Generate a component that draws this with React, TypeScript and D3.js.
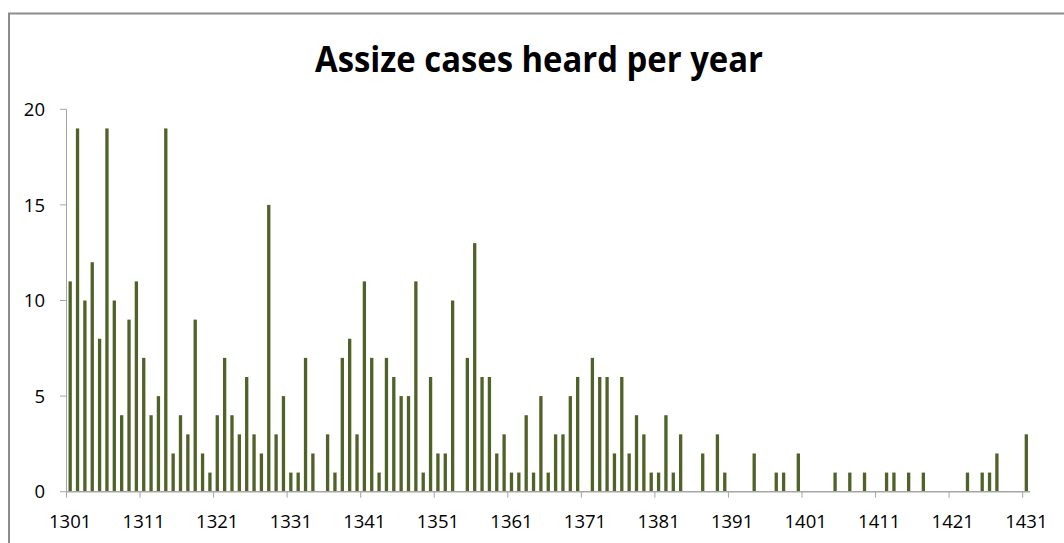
import * as d3 from 'd3';

// cases heard per year, 1301..1431 (rows of ten years)
const counts: number[] = [
  11, 19, 10, 12, 8, 19, 10, 4, 9, 11,
  7, 4, 5, 19, 2, 4, 3, 9, 2, 1,
  4, 7, 4, 3, 6, 3, 2, 15, 3, 5,
  1, 1, 7, 2, 0, 3, 1, 7, 8, 3,
  11, 7, 1, 7, 6, 5, 5, 11, 1, 6,
  2, 2, 10, 0, 7, 13, 6, 6, 2, 3,
  1, 1, 4, 1, 5, 1, 3, 3, 5, 6,
  0, 7, 6, 6, 2, 6, 2, 4, 3, 1,
  1, 4, 1, 3, 0, 0, 2, 0, 3, 1,
  0, 0, 0, 2, 0, 0, 1, 1, 0, 2,
  0, 0, 0, 0, 1, 0, 1, 0, 1, 0,
  0, 1, 1, 0, 1, 0, 1, 0, 0, 0,
  0, 0, 1, 0, 1, 1, 2, 0, 0, 0,
  3,
];
const firstYear = 1301;
const years: number[] = counts.map((_, i) => firstYear + i);
const labelYears = [1301, 1311, 1321, 1331, 1341, 1351, 1361, 1371, 1381, 1391, 1401, 1411, 1421, 1431];
const yTicks = [0, 5, 10, 15, 20];

const title = 'Assize cases heard per year';

export default function App() {
  const width = 1064;
  const height = 543;
  const plot = { left: 66.5, right: 1030, top: 109.3, bottom: 491.7 };

  const x = d3
    .scaleBand<number>()
    .domain(years)
    .range([plot.left, plot.right])
    .paddingInner(0.55)
    .paddingOuter(0.275);
  const step = x.step();
  const edge = (yr: number) => (x(yr) as number) - (step * 0.55) / 2;

  const y = d3.scaleLinear().domain([0, 20]).range([plot.bottom, plot.top]);

  const axisColor = '#a6a6a6';
  const font = "'Open Sans', 'Liberation Sans', sans-serif";

  return (
    <svg
      width={width}
      height={height}
      style={{ position: 'absolute', left: 0, top: 0, background: '#fff' }}
    >
      {/* chart frame, runs off the right and bottom */}
      <rect x={9} y={13.5} width={1200} height={700} fill="#fff" stroke="#8c8c8c" strokeWidth={2} />

      <text
        x={539}
        y={72}
        textAnchor="middle"
        fontFamily={font}
        fontWeight="bold"
        fontSize={36}
        textLength={448}
        lengthAdjust="spacingAndGlyphs"
        fill="#000"
      >
        {title}
      </text>

      {/* y axis */}
      <line x1={plot.left} x2={plot.left} y1={plot.top} y2={plot.bottom} stroke={axisColor} />
      {yTicks.map((t) => (
        <g key={t}>
          <line x1={60} x2={plot.left} y1={y(t)} y2={y(t)} stroke={axisColor} />
          <text
            x={45}
            y={y(t)}
            dy="0.36em"
            textAnchor="end"
            fontFamily={font}
            fontSize={18.5}
            fill="#000"
          >
            {t}
          </text>
        </g>
      ))}

      {/* bars */}
      {years.map((yr, i) =>
        counts[i] > 0 ? (
          <rect
            key={yr}
            x={x(yr)}
            y={y(counts[i])}
            width={x.bandwidth()}
            height={y(0) - y(counts[i])}
            fill="#4f6228"
          />
        ) : null
      )}

      {/* x axis */}
      <line x1={plot.left} x2={plot.right} y1={plot.bottom} y2={plot.bottom} stroke={axisColor} strokeWidth={1.5} />
      {labelYears.map((yr) => (
        <g key={yr}>
          <line x1={edge(yr)} x2={edge(yr)} y1={plot.bottom} y2={plot.bottom + 6} stroke={axisColor} />
          <text
            x={(x(yr) as number) + x.bandwidth() / 2}
            y={527.5}
            textAnchor="middle"
            fontFamily={font}
            fontSize={18.5}
            fill="#000"
          >
            {yr}
          </text>
        </g>
      ))}
    </svg>
  );
}
